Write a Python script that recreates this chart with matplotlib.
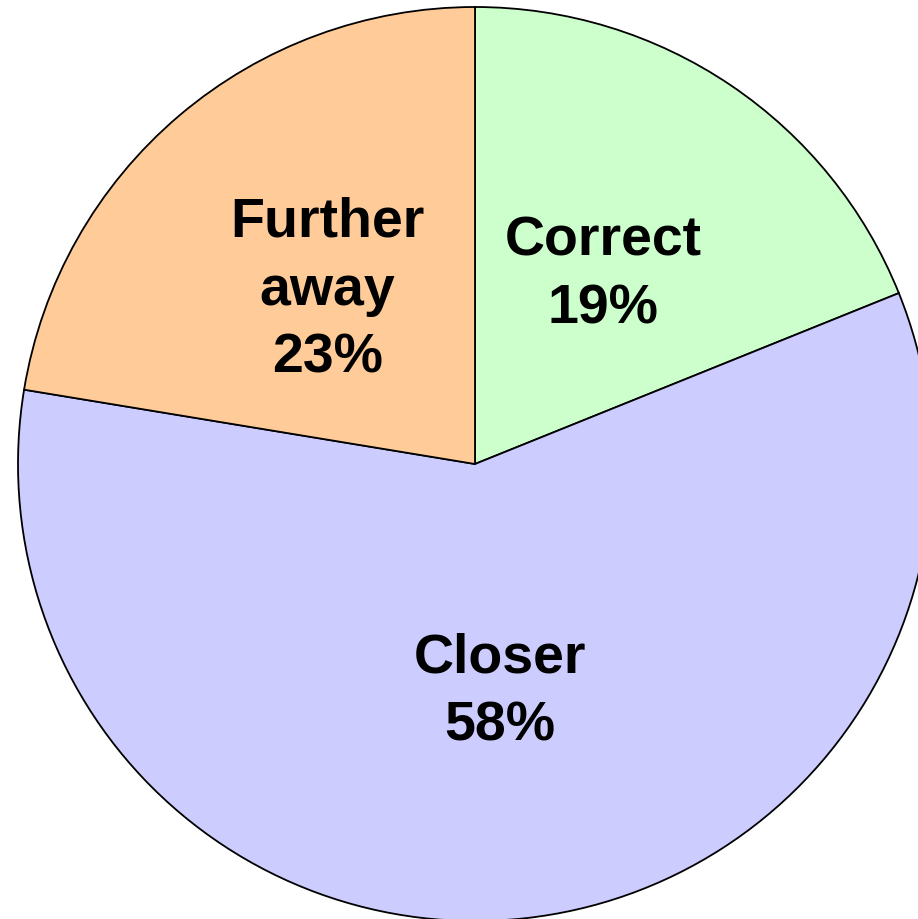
import matplotlib
matplotlib.use("Agg")
import matplotlib.pyplot as plt

categories = ["Correct", "Closer", "Further\naway"]
values = [18.9, 58.7, 22.4]
pct_labels = ["19%", "58%", "23%"]
colors = ["#CCFFCC", "#CCCCFF", "#FFCC99"]

W, H = 918, 920
fig = plt.figure(figsize=(W / 100, H / 100), dpi=100)
cx, cy, r = 475, 465, 457
ax = fig.add_axes([(cx - r) / W, (H - cy - r) / H, 2 * r / W, 2 * r / H])

wedges, texts, autotexts = ax.pie(
    values, colors=colors, startangle=90, counterclock=False,
    radius=1.0, autopct="%1.0f%%", pctdistance=0.5,
    wedgeprops=dict(edgecolor="black", linewidth=1.3),
    textprops=dict(fontsize=40, fontweight="bold", family="Liberation Sans",
                   color="black", linespacing=1.4, ha="center", va="center"),
)
for t, name, pct in zip(autotexts, categories, pct_labels):
    t.set_text(f"{name}\n{pct}")
for w in wedges:
    w.set_clip_on(False)
ax.set_xlim(-1, 1)
ax.set_ylim(-1, 1)
ax.set_aspect("equal")
ax.axis("off")
fig.savefig("out.png", dpi=100)
